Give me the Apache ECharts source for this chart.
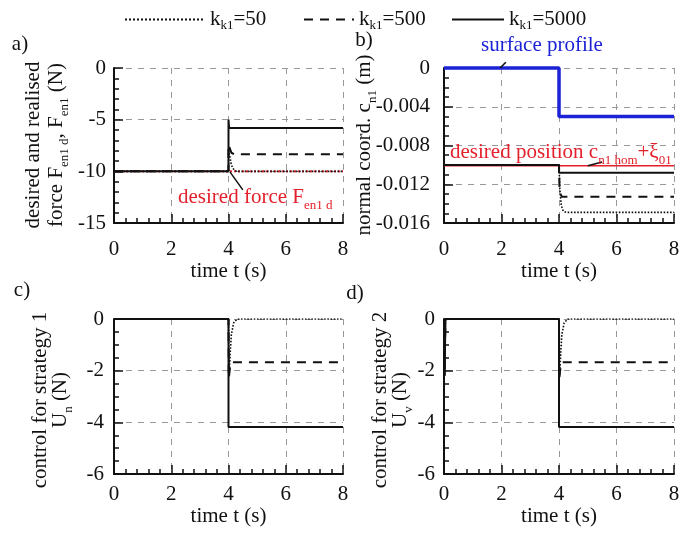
<!DOCTYPE html>
<html>
<head>
<meta charset="utf-8">
<script src="https://cdn.jsdelivr.net/npm/echarts@6/dist/echarts.min.js"></script>
<style>
body { margin: 0; background: #fff; }
#main { width: 692px; height: 541px; }
</style>
</head>
<body>
<div id="main"></div>
<script>
// gains of the three runs
var kValues = [50, 500, 5000];
var names = ['kk1=50', 'kk1=500', 'kk1=5000'];

// a) force F_en1 (N)
var forceK50 = [[0,-10],[4,-10],[4,-8],[4.05,-8.6],[4.1,-9.4],[4.2,-9.9],[4.3,-10],[8,-10]];
var forceK500 = [[0,-10],[4,-10],[4,-7.4],[4.05,-7.8],[4.1,-8.2],[4.2,-8.34],[8,-8.34]];
var forceK5000 = [[0,-10],[4,-10],[4,-5],[4.02,-5.8],[8,-5.8]];
var forceDesired = [[0,-10],[8,-10]];

// b) normal coordinate c_n1 (m)
var coordK50 = [[0,-0.01],[4,-0.01],[4.03,-0.0125],[4.08,-0.0142],[4.15,-0.0148],[4.25,-0.0149],[8,-0.0149]];
var coordK500 = [[0,-0.01],[4,-0.01],[4.02,-0.0128],[4.1,-0.0133],[8,-0.0133]];
var coordK5000 = [[0,-0.01],[4,-0.01],[4,-0.0108],[8,-0.0108]];
var surface = [[0,0],[4,0],[4,-0.005],[8,-0.005]];
var coordDesired = [[0,-0.0101],[8,-0.0101]];

// c) control U_n (N)
var unK50 = [[0,0],[4,0],[4.02,-2.2],[4.06,-1.3],[4.1,-0.6],[4.18,-0.15],[4.3,0],[8,0]];
var unK500 = [[0,0],[4,0],[4.01,-2.3],[4.05,-1.9],[4.1,-1.67],[8,-1.67]];
var unK5000 = [[0,0],[4,0],[4,-4.18],[8,-4.18]];

// d) control U_v (N)
var uvK50 = [[0,0],[0.02,-2.2],[0.05,0],[4,0],[4.02,-2.2],[4.06,-1.3],[4.1,-0.6],[4.18,-0.15],[4.3,0],[8,0]];
var uvK500 = [[0,0],[0.02,-2.2],[0.05,0],[4,0],[4.01,-2.3],[4.05,-1.9],[4.1,-1.67],[8,-1.67]];
var uvK5000 = [[0,0],[0.02,-2.2],[0.05,0],[4,0],[4,-4.18],[8,-4.18]];

// leader lines of the annotations
var leaderA = [[4.05,-10.05],[4.5,-11.8]];
var leaderSurface = [[1.95,0],[2.15,0.0006]];
var leaderDesired = [[5.0,-0.0101],[5.5,-0.0097]];

var font = "'Liberation Serif', 'DejaVu Serif', serif";
var red = '#e3202b';
var blue = '#1c22d6';

var styles = [
  { type: 'dotted', width: 1.6 },
  { type: [9, 7], width: 2 },
  { type: 'solid', width: 2 }
];

var grids = [
  { left: 114, top: 68, width: 229, height: 155 },
  { left: 444, top: 68, width: 230, height: 155 },
  { left: 114, top: 319, width: 229, height: 155 },
  { left: 444, top: 319, width: 230, height: 155 }
];

function xAx(i, top) {
  return {
    type: 'value', gridIndex: i, min: 0, max: 8, interval: 2,
    name: 'time t (s)', nameLocation: 'middle', nameGap: top ? 36 : 30,
    nameTextStyle: { fontFamily: font, fontSize: 21, color: '#111' },
    axisLine: { onZero: false, lineStyle: { color: '#111', width: 2 } },
    axisTick: { show: true, inside: true, length: 9, lineStyle: { color: '#111', width: 1.5 } },
    minorTick: { show: true, splitNumber: 5, length: 5, lineStyle: { color: '#111', width: 1.5 } },
    axisLabel: { fontFamily: font, fontSize: 21, color: '#111', margin: top ? 16 : 10 },
    splitLine: { show: true, lineStyle: { color: '#999', type: [6, 6] } }
  };
}

function yAx(i, min, interval, minor, margin) {
  return {
    type: 'value', gridIndex: i, min: min, max: 0, interval: interval,
    axisLine: { onZero: false, lineStyle: { color: '#111', width: 2 } },
    axisTick: { show: true, inside: true, length: 9, lineStyle: { color: '#111', width: 1.5 } },
    minorTick: { show: true, splitNumber: minor, length: 5, lineStyle: { color: '#111', width: 1.5 } },
    axisLabel: { fontFamily: font, fontSize: 21, color: '#111', margin: margin },
    splitLine: { show: true, lineStyle: { color: '#999', type: [6, 6] } }
  };
}

function run(name, i, data, k) {
  return {
    name: name, type: 'line', xAxisIndex: i, yAxisIndex: i, data: data,
    symbol: 'none', animation: false, z: 3,
    itemStyle: { color: '#111' },
    lineStyle: { color: '#111', width: styles[k].width, type: styles[k].type }
  };
}

function plain(i, data, color, width, type, z) {
  return {
    type: 'line', xAxisIndex: i, yAxisIndex: i, data: data, symbol: 'none',
    clip: false, animation: false, z: z, silent: true,
    lineStyle: { color: color, width: width, type: type }
  };
}

var series = [
  plain(0, forceDesired, red, 2, [2, 2], 2),
  run(names[0], 0, forceK50, 0), run(names[1], 0, forceK500, 1), run(names[2], 0, forceK5000, 2),
  plain(0, leaderA, '#111', 1.5, 'solid', 4),

  plain(1, coordDesired, red, 1.5, 'solid', 2),
  plain(1, surface, blue, 3.5, 'solid', 4),
  run(names[0], 1, coordK50, 0), run(names[1], 1, coordK500, 1), run(names[2], 1, coordK5000, 2),
  plain(1, leaderSurface, '#111', 1.5, 'solid', 4),
  plain(1, leaderDesired, '#111', 1.5, 'solid', 4),

  run(names[0], 2, unK50, 0), run(names[1], 2, unK500, 1), run(names[2], 2, unK5000, 2),
  run(names[0], 3, uvK50, 0), run(names[1], 3, uvK500, 1), run(names[2], 3, uvK5000, 2)
];

var sub = { fontFamily: font, fontSize: 13, verticalAlign: 'bottom', lineHeight: 29 };
var base = { fontFamily: font, fontSize: 21, lineHeight: 30 };

function richText(x, y, text, color, rotate, align) {
  return {
    type: 'text', x: x, y: y, rotation: rotate ? Math.PI / 2 : 0, z: 10,
    style: {
      text: text, fill: color, align: align || 'center', verticalAlign: 'middle',
      fontFamily: font, fontSize: 21,
      rich: {
        n: Object.assign({}, base, { fill: color }),
        s: Object.assign({}, sub, { fill: color })
      }
    }
  };
}

var graphics = [
  richText(20, 44, '{n|a)}', '#111'),
  richText(364, 40, '{n|b)}', '#111'),
  richText(22, 290, '{n|c)}', '#111'),
  richText(355, 293, '{n|d)}', '#111'),
  richText(33, 145, '{n|desired and realised}', '#111', true),
  richText(56, 145, '{n|force F}{s|en1 d}{n|, F}{s|en1}{n| (N)}', '#111', true),
  richText(364, 145, '{n|normal coord. c}{s|n1}{n| (m)}', '#111', true),
  richText(40, 400, '{n|control for strategy 1}', '#111', true),
  richText(60, 400, '{n|U}{s|n}{n| (N)}', '#111', true),
  richText(380, 400, '{n|control for strategy 2}', '#111', true),
  richText(400, 400, '{n|U}{s|v}{n| (N)}', '#111', true),
  richText(178, 197, '{n|desired force F}{s|en1 d}', red, false, 'left'),
  richText(542, 45, '{n|surface profile}', blue),
  richText(450, 152, '{n|desired position c}{s|n1 hom}{n|+ξ}{s|01}', red, false, 'left')
];

function legendFor(idx, left, width) {
  return {
    data: [names[idx]], top: 4, left: left, itemWidth: width, itemHeight: 14,
    itemStyle: { opacity: 0 },
    formatter: function (name) {
      return '{n|k}{s|k1}{n|=' + name.split('=')[1] + '}';
    },
    textStyle: {
      color: '#111', fontFamily: font, fontSize: 21, padding: [0, 0, 0, 0],
      rich: {
        n: { fontFamily: font, fontSize: 21, lineHeight: 26, color: '#111' },
        s: { fontFamily: font, fontSize: 13, verticalAlign: 'bottom', lineHeight: 17, color: '#111' }
      }
    }
  };
}

var chart = echarts.init(document.getElementById('main'));
var option = {
  backgroundColor: '#fff',
  animation: false,
  legend: [legendFor(0, 119, 80), legendFor(1, 298, 50), legendFor(2, 446, 52)],
  grid: grids,
  xAxis: [xAx(0, true), xAx(1, true), xAx(2, false), xAx(3, false)],
  yAxis: [yAx(0, -15, 5, 5, 8), yAx(1, -0.016, 0.004, 4, 14), yAx(2, -6, 2, 4, 10), yAx(3, -6, 2, 4, 9)],
  series: series,
  graphic: graphics
};
chart.setOption(option);
</script>
</body>
</html>
